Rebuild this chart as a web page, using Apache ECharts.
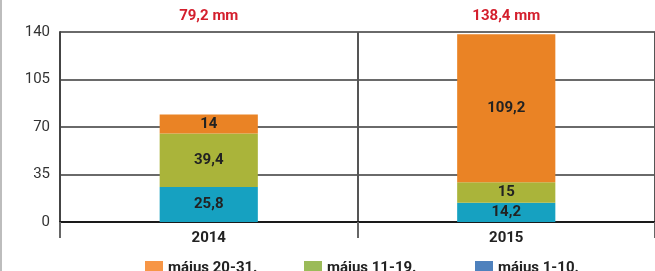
<!DOCTYPE html>
<html>
<head>
<meta charset="utf-8">
<script src="https://cdn.jsdelivr.net/npm/echarts@6/dist/echarts.min.js"></script>
<style>
  html, body { margin: 0; padding: 0; background: #fff; }
  #wrap { position: relative; width: 655px; height: 271px; }
  #edge { position: absolute; left: 0; top: 0; width: 2px; height: 271px; background: #bdbdbd; }
  #chart { position: absolute; left: 0; top: 0; width: 655px; height: 271px; }
</style>
</head>
<body>
<div id="wrap"><div id="chart"></div><div id="edge"></div></div>
<script>
const years = ["2014", "2015"];
const may1to10 = [25.8, 14.2];
const may11to19 = [39.4, 15];
const may20to31 = [14, 109.2];
const names = ["május 1-10.", "május 11-19.", "május 20-31."];
const barColors = ["#16a1c1", "#aab43a", "#ea8325"];
const legendColors = ["#4e81bd", "#9bbb59", "#f79646"];

const fmt = (v) => String(v).replace(".", ",");
const totals = years.map((_, i) =>
  (may1to10[i] + may11to19[i] + may20to31[i]).toFixed(1).replace(".", ",") + " mm"
);

const chart = echarts.init(document.getElementById("chart"), null, { renderer: "canvas" });
const font = "Roboto, 'Open Sans', sans-serif";

const barSeries = [may1to10, may11to19, may20to31].map((data, i) => ({
  name: names[i],
  type: "bar",
  stack: "rain",
  barWidth: "33%",
  data: data,
  itemStyle: { color: barColors[i] },
  label: {
    show: true,
    position: "inside",
    color: "#222",
    fontFamily: font,
    fontWeight: "bold",
    fontSize: 15,
    formatter: (p) => fmt(p.value),
  },
}));

// one legend block per entry, placed like the original
const legendPos = [140, 299, 470];
const legendOrder = [2, 1, 0];

const option = {
  animation: false,
  textStyle: { fontFamily: font },
  grid: { left: 60, right: 0, top: 32, bottom: 49 },
  legend: legendOrder.map((si, k) => ({
    left: legendPos[k],
    top: 256,
    itemWidth: 18,
    itemHeight: 15,
    itemStyle: { borderWidth: 0 },
    textStyle: { color: "#222", fontWeight: "bold", fontSize: 15, fontFamily: font },
    selectedMode: false,
    data: [{ name: names[si], icon: "rect", itemStyle: { color: legendColors[si] } }],
  })),
  xAxis: [
    {
      type: "category",
      data: years,
      axisLine: { lineStyle: { color: "#1a1a1a", width: 2 } },
      axisTick: { show: true, length: 16, lineStyle: { color: "#666", width: 2 } },
      splitLine: { show: true, lineStyle: { color: "#555", width: 2 } },
      axisLabel: { color: "#222", fontWeight: "bold", fontSize: 15, margin: 9 },
    },
    {
      type: "category",
      position: "top",
      data: totals,
      axisLine: { show: false },
      axisTick: { show: false },
      splitLine: { show: false },
      axisLabel: { color: "#d41f2d", fontWeight: "bold", fontSize: 15, margin: 8 },
    },
  ],
  yAxis: {
    type: "value",
    min: 0,
    max: 140,
    interval: 35,
    axisLine: { show: true, lineStyle: { color: "#444", width: 2 } },
    axisTick: { show: false },
    splitLine: { lineStyle: { color: "#6a6a6a", width: 2 } },
    axisLabel: { color: "#333", fontSize: 15, margin: 10 },
  },
  series: barSeries,
};

chart.setOption(option);
</script>
</body>
</html>
